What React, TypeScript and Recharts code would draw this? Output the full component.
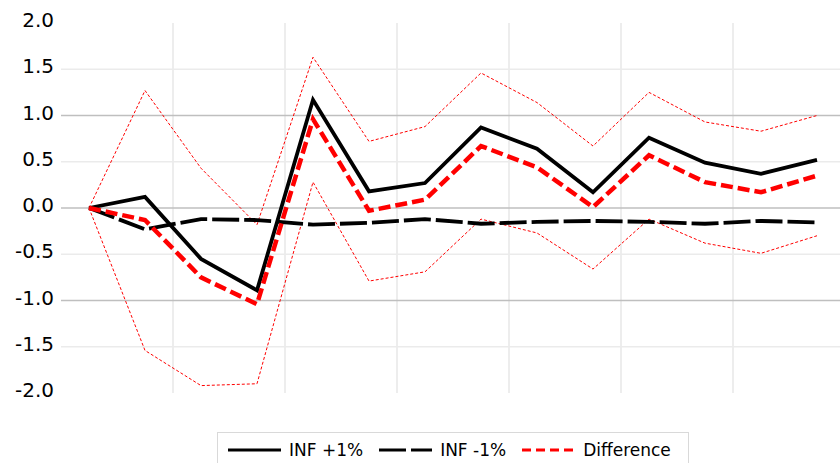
import React from "react";
import { LineChart, Line, XAxis, YAxis, CartesianGrid, Legend } from "recharts";

// periods after the shock (no labels shown on the horizontal axis)
const periods = [0, 1, 2, 3, 4, 5, 6, 7, 8, 9, 10, 11, 12, 13];

const infPlus = [0, 0.12, -0.55, -0.89, 1.17, 0.18, 0.27, 0.87, 0.64, 0.17, 0.76, 0.49, 0.37, 0.52];
const infMinus = [0, -0.23, -0.12, -0.13, -0.18, -0.16, -0.12, -0.17, -0.15, -0.14, -0.15, -0.17, -0.14, -0.155];
const difference = [0, -0.13, -0.75, -1.04, 0.96, -0.03, 0.09, 0.67, 0.44, 0.01, 0.57, 0.28, 0.17, 0.35];
const diffUpper = [0, 1.27, 0.43, -0.18, 1.63, 0.72, 0.88, 1.46, 1.14, 0.67, 1.25, 0.93, 0.83, 1.0];
const diffLower = [0, -1.54, -1.92, -1.9, 0.28, -0.79, -0.69, -0.12, -0.27, -0.66, -0.12, -0.38, -0.49, -0.3];

const yTicks = [-2, -1.5, -1, -0.5, 0, 0.5, 1, 1.5, 2];
const majorGrid = [-1, 0, 1];
const minorGrid = [-1.5, -0.5, 0.5, 1.5];
const periodGrid = [1.5, 3.5, 5.5, 7.5, 9.5, 11.5];

const data = periods.map((t, i) => ({
  t,
  infPlus: infPlus[i],
  infMinus: infMinus[i],
  difference: difference[i],
  diffUpper: diffUpper[i],
  diffLower: diffLower[i],
}));

const FONT = "'DejaVu Sans', sans-serif";

const legendItems = [
  { name: "INF +1%", stroke: "#000000", dash: undefined as string | undefined },
  { name: "INF -1%", stroke: "#000000", dash: "27 5" },
  { name: "Difference", stroke: "#ff0000", dash: "9 5" },
];

const YTick = (props: any) => {
  const { x, y, payload } = props;
  return (
    <text x={x} y={y} dy={4} textAnchor="end" fontSize={20} fontFamily={FONT} fill="#000">
      {Number(payload.value).toFixed(1)}
    </text>
  );
};

const LegendBox = () => (
  <div
    style={{
      border: "1px solid #d9d9d9",
      boxSizing: "border-box",
      width: 472,
      height: 44,
      padding: "7px 0 0 10px",
      display: "flex",
      alignItems: "flex-start",
      fontFamily: FONT,
      fontSize: 17,
      color: "#000",
      background: "#fff",
    }}
  >
    {legendItems.map((item) => (
      <div key={item.name} style={{ display: "flex", alignItems: "center", marginRight: 16, height: 20 }}>
        <svg width={53} height={8} style={{ marginRight: 8 }}>
          <line x1={0} y1={4} x2={53} y2={4} stroke={item.stroke} strokeWidth={3} strokeDasharray={item.dash} />
        </svg>
        <span style={{ lineHeight: "20px" }}>{item.name}</span>
      </div>
    ))}
  </div>
);

export default function App() {
  return (
    <div
      style={{
        position: "absolute",
        left: 0,
        top: 0,
        width: 840,
        height: 463,
        overflow: "hidden",
        background: "#fff",
      }}
    >
      <LineChart width={880} height={463} data={data} margin={{ top: 23, right: 35, bottom: 70, left: 0 }}>
        <CartesianGrid horizontal={false} verticalValues={periodGrid} stroke="#e3e3e3" strokeWidth={1.3} />
        <CartesianGrid vertical={false} horizontalValues={minorGrid} stroke="#ebebeb" strokeWidth={1.3} />
        <CartesianGrid vertical={false} horizontalValues={majorGrid} stroke="#bfbfbf" strokeWidth={1.3} />
        <XAxis dataKey="t" type="number" domain={[-0.5, 13.5]} hide />
        <YAxis
          domain={[-2, 2]}
          ticks={yTicks}
          width={61}
          axisLine={false}
          tickLine={false}
          tickSize={6}
          tickMargin={1}
          tick={<YTick />}
        />
        <Legend
          verticalAlign="middle"
          align="center"
          content={<LegendBox />}
          wrapperStyle={{ left: 217, top: 432, width: 472 }}
        />
        <Line dataKey="diffUpper" legendType="none" stroke="#ff0000" strokeWidth={1} strokeDasharray="3 2" dot={false} activeDot={false} isAnimationActive={false} />
        <Line dataKey="diffLower" legendType="none" stroke="#ff0000" strokeWidth={1} strokeDasharray="3 2" dot={false} activeDot={false} isAnimationActive={false} />
        <Line dataKey="infPlus" name="INF +1%" stroke="#000000" strokeWidth={3.8} dot={false} activeDot={false} isAnimationActive={false} />
        <Line dataKey="infMinus" name="INF -1%" stroke="#000000" strokeWidth={3.8} strokeDasharray="27 5" dot={false} activeDot={false} isAnimationActive={false} />
        <Line dataKey="difference" name="Difference" stroke="#ff0000" strokeWidth={4.5} strokeDasharray="12 5" dot={false} activeDot={false} isAnimationActive={false} />
      </LineChart>
    </div>
  );
}
